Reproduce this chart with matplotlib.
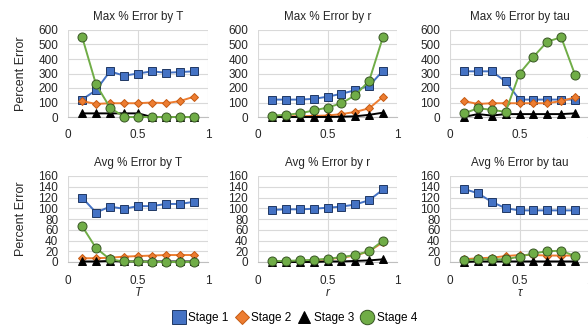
import numpy as np
import matplotlib
matplotlib.use("Agg")
import matplotlib.pyplot as plt
from matplotlib.lines import Line2D

plt.rcParams['font.family'] = ['Liberation Sans', 'DejaVu Sans']

x = [0.1, 0.2, 0.3, 0.4, 0.5, 0.6, 0.7, 0.8, 0.9]

# Max % error
max_T_s1 = [120, 185, 315, 285, 300, 315, 305, 310, 315]
max_T_s2 = [110, 90, 95, 95, 95, 100, 95, 110, 140]
max_T_s3 = [25, 25, 25, 25, 25, 0, 0, 0, 0]
max_T_s4 = [555, 225, 65, 0, 0, 0, 0, 0, 0]

max_r_s1 = [120, 120, 120, 125, 140, 160, 185, 215, 320]
max_r_s2 = [5, 5, 5, 8, 10, 20, 35, 60, 140]
max_r_s3 = [0, 0, 0, 0, 0, 2, 5, 15, 30]
max_r_s4 = [10, 15, 25, 45, 65, 95, 150, 250, 555]

max_tau_s1 = [315, 315, 315, 245, 120, 120, 120, 120, 120]
max_tau_s2 = [110, 90, 95, 95, 95, 95, 95, 110, 135]
max_tau_s3 = [0, 20, 10, 20, 20, 20, 20, 20, 25]
max_tau_s4 = [25, 60, 50, 35, 300, 415, 520, 550, 290]

# Avg % error
avg_T_s1 = [120, 92, 103, 99, 104, 104, 108, 108, 112]
avg_T_s2 = [7, 7, 8, 10, 11, 12, 13, 13, 13]
avg_T_s3 = [1, 1, 2, 1, 1, 1, 1, 1, 1]
avg_T_s4 = [67, 26, 5, 1, 1, 0, 0, 0, 0]

avg_r_s1 = [97, 98, 98, 99, 101, 103, 107, 115, 135]
avg_r_s2 = [1, 1, 2, 3, 5, 8, 12, 20, 37]
avg_r_s3 = [0, 0, 0, 0, 1, 1, 2, 3, 5]
avg_r_s4 = [2, 2, 3, 4, 6, 9, 13, 20, 40]

avg_tau_s1 = [136, 128, 112, 100, 96, 96, 96, 96, 96]
avg_tau_s2 = [5, 7, 8, 11, 13, 13, 12, 12, 12]
avg_tau_s3 = [0, 1, 1, 1, 1, 1, 1, 1, 1]
avg_tau_s4 = [3, 5, 5, 5, 10, 16, 20, 21, 11]

titles = ["Max % Error by T", "Max % Error by r", "Max % Error by tau",
          "Avg % Error by T", "Avg % Error by r", "Avg % Error by tau"]
xlabels = ["T", "r", "τ"]
stages = ["Stage 1", "Stage 2", "Stage 3", "Stage 4"]

panels = [
    [max_T_s1, max_T_s2, max_T_s3, max_T_s4],
    [max_r_s1, max_r_s2, max_r_s3, max_r_s4],
    [max_tau_s1, max_tau_s2, max_tau_s3, max_tau_s4],
    [avg_T_s1, avg_T_s2, avg_T_s3, avg_T_s4],
    [avg_r_s1, avg_r_s2, avg_r_s3, avg_r_s4],
    [avg_tau_s1, avg_tau_s2, avg_tau_s3, avg_tau_s4],
]

# style per stage: line colour, face, edge, marker, size
styles = [
    ("#4472C4", "#4472C4", "#1F3864", "s", 6.0),
    ("#ED7D31", "#ED7D31", "#C55A11", "D", 4.2),
    ("#000000", "#000000", "#000000", "^", 5.5),
    ("#70AD47", "#70AD47", "#375623", "o", 6.5),
]

W, H = 588, 329
fig = plt.figure(figsize=(W / 100, H / 100), dpi=100)

col_x = [(68, 208), (258, 397), (450, 589)]
row_y = [(30, 117), (176, 262)]
fs = 8.5

for i, data in enumerate(panels):
    r, c = divmod(i, 3)
    x0, x1 = col_x[c]
    yt, yb = row_y[r]
    ax = fig.add_axes([x0 / W, 1 - yb / H, (x1 - x0) / W, (yb - yt) / H])
    for (lc, fc, ec, mk, ms), ys in zip(styles, data):
        ax.plot(x, ys, color=lc, lw=1.4, marker=mk, ms=ms, mfc=fc, mec=ec,
                mew=0.7, clip_on=False, zorder=3)
    ax.set_xlim(0, 1)
    if r == 0:
        ax.set_ylim(0, 600)
        ax.set_yticks(np.arange(0, 601, 100))
    else:
        ax.set_ylim(0, 160)
        ax.set_yticks(np.arange(0, 161, 20))
    ax.set_xticks([0, 0.5, 1])
    ax.set_xticklabels(["0", "0.5", "1"])
    ax.grid(True, color="#D9D9D9", lw=0.8)
    ax.set_axisbelow(True)
    for s in ["top", "right", "left"]:
        ax.spines[s].set_visible(False)
    ax.spines["bottom"].set_color("#BFBFBF")
    ax.tick_params(length=0, labelsize=fs, colors="#262626")
    ax.tick_params(axis="y", pad=7)
    ax.tick_params(axis="x", pad=9)
    ax.set_title(titles[i], fontsize=8.4, color="#262626", pad=7)
    if c == 0:
        ax.set_ylabel("Percent Error", fontsize=9, color="#262626", labelpad=8)
    if r == 1:
        ax.set_xlabel(xlabels[c], fontsize=fs, style="italic", color="#262626",
                      labelpad=0)

handles = [Line2D([], [], ls="none", marker=mk, ms=ms * 1.6, mfc=fc, mec=ec,
                  mew=0.7) for (lc, fc, ec, mk, ms) in styles]
fig.legend(handles, stages, loc="center", bbox_to_anchor=(295 / W, 1 - 318 / H),
           ncol=4, frameon=False, fontsize=fs, handlelength=1.0,
           handletextpad=0.3, columnspacing=0.6)

fig.savefig("out.png", dpi=100)
